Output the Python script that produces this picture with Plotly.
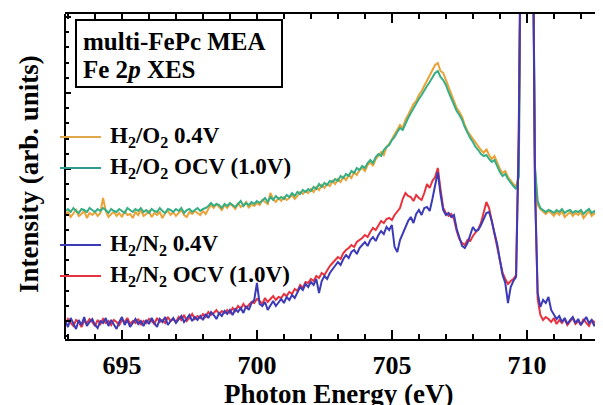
import plotly.graph_objects as go

# ---------------- data (heights in arb. units) ----------------
energy = [round(692.9 + 0.1 * i, 1) for i in range(200)]

o2_04v = [
    124, 127, 122, 126, 129, 123, 125, 128, 121, 126,
    124, 127, 123, 126, 141, 128, 122, 125, 127, 123,
    126, 122, 128, 124, 125, 121, 127, 124, 129, 123,
    125, 128, 122, 126, 124, 127, 121, 126, 128, 124,
    127, 123, 126, 129, 124, 122, 127, 125, 128, 126,
    124, 128, 125, 130, 134, 131, 135, 132, 129, 134,
    131, 135, 133, 130, 136, 132, 134, 137, 131, 135,
    133, 136, 134, 139, 137, 135, 146, 140, 137, 141,
    138, 142, 139, 141, 144, 140, 143, 147, 145, 148,
    146, 150, 147, 152, 149, 154, 151, 155, 153, 158,
    155, 160, 157, 162, 159, 164, 161, 167, 164, 169,
    171, 168, 174, 177, 173, 180, 183, 187, 184, 192,
    195, 200, 204, 209, 214, 211, 219, 224, 229, 235,
    238, 244, 248, 253, 258, 263, 269, 274, 276, 268,
    266, 259, 251, 244, 238, 231, 227, 222, 214, 208,
    204, 200, 196, 192, 189, 186, 190, 184, 180, 183,
    176, 170, 166, 168, 162, 158, 155, 152, 164, 500,
    500, 500, 500, 500, 170, 134, 130, 127, 125, 128,
    126, 123, 127, 124, 128, 122, 125, 127, 123, 126,
    124, 127, 121, 125, 128, 123, 126, 122, 125, 127,
]

o2_ocv = [
    128, 130, 127, 131, 128, 126, 130, 129, 127, 131,
    129, 127, 130, 128, 131, 129, 126, 130, 128, 127,
    130, 128, 126, 131, 129, 127, 130, 128, 131, 127,
    129, 126, 130, 128, 127, 131, 128, 126, 130, 129,
    127, 130, 128, 131, 126, 129, 130, 127, 129, 131,
    128, 130, 131, 133, 136, 133, 135, 134, 131, 135,
    133, 136, 134, 132, 135, 138, 133, 136, 134, 137,
    135, 138, 136, 139, 141, 137, 142, 139, 143, 140,
    142, 140, 144, 142, 146, 143, 147, 145, 149, 147,
    150, 148, 152, 150, 155, 152, 156, 154, 158, 157,
    160, 158, 163, 161, 165, 163, 168, 166, 171, 169,
    173, 171, 176, 179, 176, 182, 185, 183, 189, 192,
    194, 199, 202, 207, 211, 209, 216, 221, 226, 231,
    235, 240, 244, 249, 253, 257, 262, 266, 268, 262,
    259, 254, 247, 240, 234, 228, 224, 219, 212, 206,
    201, 197, 192, 189, 185, 183, 184, 180, 177, 179,
    172, 167, 163, 165, 160, 156, 153, 150, 162, 500,
    500, 500, 500, 500, 172, 138, 131, 129, 127, 129,
    128, 126, 129, 127, 130, 126, 128, 129, 126, 128,
    127, 129, 125, 128, 130, 126, 128, 125, 127, 129,
]

n2_04v = [
    18, 12, 21, 15, 10, 19, 14, 22, 13, 17,
    20, 14, 11, 18, 16, 21, 13, 19, 15, 10,
    17, 22, 14, 19, 12, 16, 20, 15, 18, 13,
    19, 15, 21, 16, 12, 20, 17, 22, 14, 18,
    21, 16, 19, 23, 17, 20, 24, 18, 22, 19,
    23, 19, 25, 21, 27, 24, 20, 26, 23, 28,
    25, 29, 24, 30, 27, 31, 26, 33, 29, 36,
    39, 56, 35, 33, 37, 29, 34, 38, 33, 37,
    40, 36, 42, 39, 44, 41, 47, 52, 49, 55,
    52, 57, 54, 60, 46, 58, 63, 60, 66, 70,
    73, 77, 74, 80, 84, 81, 87, 89, 85, 91,
    94, 97, 93, 99, 102, 98, 104, 108, 105, 112,
    109, 114, 92, 87, 99, 105, 112, 118, 122, 116,
    125, 129, 124, 131, 132, 128, 140, 152, 167, 145,
    129, 124, 126, 122, 124, 110, 102, 93, 91, 96,
    104, 112, 108, 109, 114, 120, 126, 127, 118, 106,
    95, 79, 64, 56, 36, 52, 58, 62, 200, 500,
    500, 500, 500, 500, 150, 46, 32, 39, 36, 42,
    29, 24, 20, 23, 17, 21, 15, 19, 22, 16,
    20, 14, 18, 22, 16, 19, 13, 17, 21, 15,
]

n2_ocv = [
    15, 20, 16, 13, 19, 17, 12, 18, 16, 20,
    17, 13, 19, 15, 20, 16, 18, 14, 19, 17,
    14, 19, 17, 21, 15, 18, 16, 20, 14, 18,
    16, 20, 18, 15, 21, 17, 19, 16, 22, 18,
    20, 17, 22, 19, 24, 18, 21, 25, 20, 23,
    21, 25, 22, 27, 24, 26, 29, 25, 28, 26,
    29, 26, 31, 28, 33, 30, 35, 31, 34, 37,
    36, 40, 38, 35, 41, 37, 40, 43, 39, 42,
    41, 45, 43, 47, 45, 50, 48, 54, 51, 57,
    56, 60, 58, 63, 61, 66, 64, 69, 73, 76,
    79, 82, 80, 86, 89, 91, 94, 92, 97, 99,
    101, 104, 102, 107, 111, 109, 114, 118, 116, 120,
    121, 119, 124, 127, 131, 140, 146, 143, 142, 138,
    144, 141, 139, 146, 155, 151, 158, 162, 171, 150,
    131, 126, 123, 125, 120, 108, 100, 96, 94, 99,
    98, 103, 107, 110, 116, 127, 137, 131, 118, 104,
    92, 76, 66, 60, 55, 58, 60, 64, 210, 500,
    500, 500, 500, 500, 160, 40, 24, 19, 22, 20,
    17, 21, 15, 19, 16, 20, 14, 18, 21, 15,
    18, 14, 20, 16, 13, 19, 17, 14, 18, 16,
]

series_names = ["H<sub>2</sub>/O<sub>2</sub> 0.4V",
                "H<sub>2</sub>/O<sub>2</sub> OCV (1.0V)",
                "H<sub>2</sub>/N<sub>2</sub> 0.4V",
                "H<sub>2</sub>/N<sub>2</sub> OCV (1.0V)"]
series_colors = ["#EBA237", "#35AE86", "#3B3BB8", "#E8323E"]
legend_line_colors = ["#E0A84A", "#2E9A8C", "#3B3BB8", "#E8323E"]

# ---------------- figure ----------------
OFF = 8  # page body margin
W, H = 603 - OFF, 405 - OFF
L, R, T, B = 65 - OFF, 0, 14 - OFF, 66
PW, PH = W - L - R, H - T - B


def px_x(px):
    return (px - OFF - L) / PW


def px_y(py):
    return (H - B - (py - OFF)) / PH


fig = go.Figure()
for vals, name, col in [(o2_04v, series_names[0], series_colors[0]),
                        (o2_ocv, series_names[1], series_colors[1]),
                        (n2_ocv, series_names[3], series_colors[3]),
                        (n2_04v, series_names[2], series_colors[2])]:
    fig.add_trace(go.Scatter(x=energy, y=vals, mode="lines", name=name,
                             line=dict(color=col, width=2), showlegend=False))

serif = "Liberation Serif, Times New Roman, serif"

fig.update_layout(
    width=W, height=H,
    margin=dict(l=L, r=R, t=T, b=B),
    paper_bgcolor="white", plot_bgcolor="white",
    font=dict(family=serif, color="black"),
    xaxis=dict(range=[692.89, 712.82], showgrid=False, zeroline=False,
               showline=True, linecolor="black", linewidth=2, mirror="ticks",
               ticks="inside", ticklen=9, tickwidth=1.5, tickcolor="black",
               tick0=695, dtick=5, ticklabelstandoff=2,
               tickfont=dict(family=serif, size=26, weight="bold", color="black"),
               minor=dict(dtick=1, tick0=695, ticks="inside", ticklen=5,
                          tickwidth=1.5, tickcolor="black")),
    yaxis=dict(range=[0, 325], showgrid=False, zeroline=False,
               showline=False, mirror="ticks",
               ticks="inside", ticklen=6, tickwidth=1.5, tickcolor="black",
               tick0=18, dtick=76, showticklabels=False,
               minor=dict(dtick=15.2, tick0=18, ticks="inside", ticklen=4,
                          tickwidth=1.5, tickcolor="black")),
    showlegend=False,
)

# left axis line
fig.add_shape(type="line", xref="paper", yref="paper", x0=0, x1=0, y0=0, y1=1,
              line=dict(color="black", width=2))

# title box
fig.add_shape(type="rect", xref="paper", yref="paper",
              x0=px_x(76), x1=px_x(282), y0=px_y(87), y1=px_y(20),
              line=dict(color="black", width=2), fillcolor="white")
fig.add_annotation(text="multi-FePc MEA", xref="paper", yref="paper",
                   x=px_x(81), y=px_y(42), xanchor="left", yanchor="middle",
                   showarrow=False,
                   font=dict(family=serif, size=25, weight="bold", color="black"))
fig.add_annotation(text="Fe 2<i>p</i> XES", xref="paper", yref="paper",
                   x=px_x(81), y=px_y(70), xanchor="left", yanchor="middle",
                   showarrow=False,
                   font=dict(family=serif, size=25, weight="bold", color="black"))

# manual legend
legend_y = [137, 168, 245, 276]
for name, col, ly in zip(series_names, legend_line_colors, legend_y):
    fig.add_shape(type="line", xref="paper", yref="paper",
                  x0=px_x(60), x1=px_x(101), y0=px_y(ly), y1=px_y(ly),
                  line=dict(color=col, width=2))
    fig.add_annotation(text=name, xref="paper", yref="paper",
                       x=px_x(108), y=px_y(ly), xanchor="left", yanchor="middle",
                       showarrow=False,
                       font=dict(family=serif, size=23, weight="bold", color="black"))

# axis titles
fig.add_annotation(text="Photon Energy (eV)", xref="paper", yref="paper",
                   x=px_x(338), y=px_y(394), xanchor="center", yanchor="middle",
                   showarrow=False,
                   font=dict(family=serif, size=27, weight="bold", color="black"))
fig.add_annotation(text="Intensity (arb. units)", xref="paper", yref="paper",
                   x=px_x(29), y=px_y(174), xanchor="center", yanchor="middle",
                   textangle=-90, showarrow=False,
                   font=dict(family=serif, size=27, weight="bold", color="black"))

fig.write_html("out.html")
